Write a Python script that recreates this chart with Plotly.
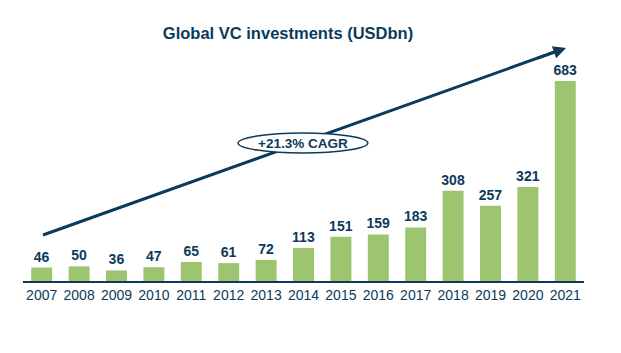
import plotly.graph_objects as go

years = ["2007","2008","2009","2010","2011","2012","2013","2014","2015","2016","2017","2018","2019","2020","2021"]
values = [46, 50, 36, 47, 65, 61, 72, 113, 151, 159, 183, 308, 257, 321, 683]
title_text = "Global VC investments (USDbn)"
cagr_text = "+21.3% CAGR"

NAVY = "#0c3a5b"
GREEN = "#9dc46f"
FONT = "Liberation Sans, Arial, sans-serif"

fig = go.Figure()
fig.add_trace(go.Bar(
    x=list(range(len(years))), y=values,
    marker=dict(color=GREEN, line=dict(width=0)),
    text=[str(v) for v in values], textposition="outside", constraintext="none",
    textfont=dict(family=FONT, size=14, color=NAVY, weight="bold"),
    cliponaxis=False,
))

# trend arrow: line shape + arrowhead annotation
x_start, y_start, x_end, y_end = 0.035, 157, 14.02, 796
fig.add_shape(type="line", xref="x", yref="y", x0=x_start, y0=y_start,
              x1=x_end - 0.15, y1=y_end - 7, line=dict(color=NAVY, width=3))
fig.add_annotation(
    x=x_end, y=y_end, ax=x_end - 0.8, ay=y_end - 36.5,
    xref="x", yref="y", axref="x", ayref="y",
    showarrow=True, arrowhead=2, arrowsize=0.85, arrowwidth=3, arrowcolor=NAVY,
    text="",
)
# CAGR ellipse
fig.add_shape(type="circle", xref="x", yref="y",
              x0=5.25, x1=8.72, y0=437, y1=505,
              line=dict(color=NAVY, width=1.5), fillcolor="white", layer="above")
fig.add_annotation(x=(5.25+8.72)/2, y=471, xref="x", yref="y", text=cagr_text,
                   showarrow=False, font=dict(family=FONT, size=13.5, color=NAVY, weight="bold"))

fig.update_layout(
    width=621, height=353,
    margin=dict(l=23, r=37, t=40, b=72),
    paper_bgcolor="white", plot_bgcolor="white",
    bargap=0.44, showlegend=False,
    title=dict(text=title_text, x=288/621, xanchor="center", y=1-33/353, yanchor="middle",
               font=dict(family=FONT, size=16.5, color=NAVY, weight="bold")),
    xaxis=dict(tickmode="array", tickvals=list(range(len(years))), ticktext=years,
               range=[-0.5, len(years)-0.5], showgrid=False, zeroline=False,
               showline=True, linecolor=NAVY, linewidth=1.5, ticks="",
               tickfont=dict(family=FONT, size=14, color=NAVY)),
    yaxis=dict(range=[0, 823], visible=False, showgrid=False, zeroline=False),
)

fig.write_html("out.html")
